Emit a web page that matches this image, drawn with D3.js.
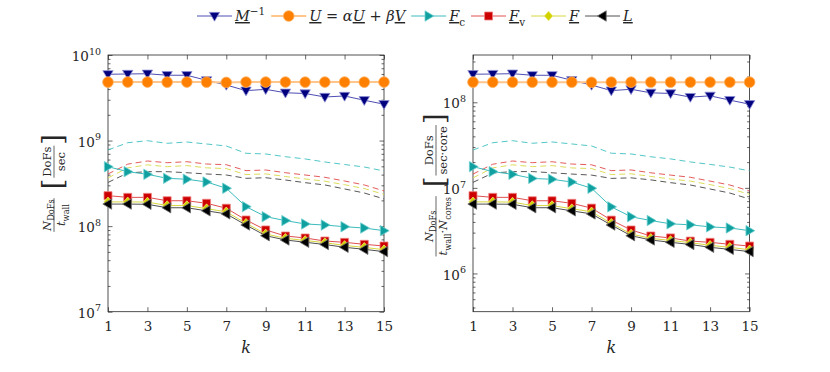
<!DOCTYPE html>
<html>
<head>
<meta charset="utf-8">
<script src="https://cdn.jsdelivr.net/npm/d3@7"></script>
<style>
  body { margin: 0; background: #fff; }
  text { font-family: "DejaVu Serif", "Liberation Serif", serif; fill: #262626; }
</style>
</head>
<body>
<div id="chart"></div>
<script>
// x values (k) and tick labels
const ks = [1, 2, 3, 4, 5, 6, 7, 8, 9, 10, 11, 12, 13, 14, 15];
const xTicks = [1, 3, 5, 7, 9, 11, 13, 15];
const yTicksLeft = [1e7, 1e8, 1e9, 1e10];
const yTicksRight = [1e6, 1e7, 1e8];

// left panel: DoFs / sec
const minvL  = [5.95e9, 6.0e9, 6.04e9, 5.8e9, 5.8e9, 5.06e9, 4.46e9, 3.83e9, 3.97e9, 3.62e9, 3.55e9, 3.23e9, 3.32e9, 2.96e9, 2.66e9];
const updL   = [4.82e9, 4.83e9, 4.83e9, 4.82e9, 4.83e9, 4.82e9, 4.78e9, 4.83e9, 4.83e9, 4.83e9, 4.82e9, 4.83e9, 4.83e9, 4.82e9, 4.83e9];
const fcL    = [4.95e8, 4.33e8, 4.03e8, 3.62e8, 3.53e8, 3.28e8, 2.77e8, 1.69e8, 1.29e8, 1.16e8, 1.06e8, 1.03e8, 9.85e7, 9.5e7, 8.85e7];
const fvL    = [2.27e8, 2.17e8, 2.17e8, 1.98e8, 1.98e8, 1.85e8, 1.62e8, 1.18e8, 9.02e7, 7.67e7, 7.27e7, 6.70e7, 6.47e7, 6.13e7, 5.86e7];
const fL     = [1.92e8, 1.92e8, 1.91e8, 1.74e8, 1.74e8, 1.60e8, 1.47e8, 1.08e8, 8.1e7, 7.2e7, 6.8e7, 6.4e7, 5.95e7, 5.65e7, 5.3e7];
const lL     = [1.81e8, 1.81e8, 1.80e8, 1.64e8, 1.64e8, 1.51e8, 1.39e8, 1.03e8, 7.73e7, 6.89e7, 6.48e7, 6.10e7, 5.66e7, 5.36e7, 5.03e7];
const fcDashL = [7.76e8, 9.44e8, 9.96e8, 9.29e8, 9.62e8, 9.12e8, 8.64e8, 7.10e8, 6.97e8, 6.48e8, 6.10e8, 5.62e8, 5.25e8, 4.91e8, 4.41e8];
const fvDashL = [4.07e8, 5.3e8, 5.77e8, 5.51e8, 5.66e8, 5.32e8, 5.22e8, 4.45e8, 4.53e8, 4.21e8, 3.96e8, 3.72e8, 3.37e8, 3.03e8, 2.58e8];
const fDashL  = [3.66e8, 4.8e8, 5.2e8, 4.95e8, 5.1e8, 4.8e8, 4.7e8, 4.0e8, 4.08e8, 3.8e8, 3.56e8, 3.35e8, 3.05e8, 2.75e8, 2.35e8];
const lDashL  = [3.24e8, 4.18e8, 4.33e8, 4.33e8, 4.21e8, 4.07e8, 3.96e8, 3.62e8, 3.68e8, 3.46e8, 3.22e8, 3.03e8, 2.72e8, 2.44e8, 2.08e8];

// right panel: DoFs / (sec * core)
const minvR  = [2.13e8, 2.14e8, 2.16e8, 2.07e8, 2.07e8, 1.81e8, 1.59e8, 1.37e8, 1.42e8, 1.29e8, 1.27e8, 1.15e8, 1.19e8, 1.06e8, 9.5e7];
const updR   = [1.72e8, 1.72e8, 1.72e8, 1.72e8, 1.72e8, 1.72e8, 1.71e8, 1.72e8, 1.72e8, 1.72e8, 1.72e8, 1.72e8, 1.72e8, 1.72e8, 1.72e8];
const fcR    = [1.77e7, 1.55e7, 1.44e7, 1.29e7, 1.26e7, 1.17e7, 9.9e6, 6.0e6, 4.6e6, 4.15e6, 3.8e6, 3.7e6, 3.5e6, 3.4e6, 3.16e6];
const fvR    = [8.1e6, 7.75e6, 7.75e6, 7.07e6, 7.07e6, 6.6e6, 5.8e6, 4.2e6, 3.22e6, 2.74e6, 2.6e6, 2.39e6, 2.31e6, 2.19e6, 2.09e6];
const fR     = [6.86e6, 6.86e6, 6.82e6, 6.21e6, 6.21e6, 5.71e6, 5.25e6, 3.86e6, 2.89e6, 2.57e6, 2.43e6, 2.29e6, 2.13e6, 2.02e6, 1.89e6];
const lR     = [6.46e6, 6.46e6, 6.43e6, 5.86e6, 5.86e6, 5.39e6, 4.96e6, 3.68e6, 2.76e6, 2.46e6, 2.31e6, 2.18e6, 2.02e6, 1.91e6, 1.8e6];
const fcDashR = [2.77e7, 3.37e7, 3.56e7, 3.32e7, 3.44e7, 3.26e7, 3.09e7, 2.54e7, 2.49e7, 2.31e7, 2.18e7, 2.01e7, 1.88e7, 1.75e7, 1.58e7];
const fvDashR = [1.45e7, 1.89e7, 2.06e7, 1.97e7, 2.02e7, 1.9e7, 1.86e7, 1.59e7, 1.62e7, 1.5e7, 1.41e7, 1.33e7, 1.2e7, 1.08e7, 9.2e6];
const fDashR  = [1.31e7, 1.71e7, 1.86e7, 1.77e7, 1.82e7, 1.71e7, 1.68e7, 1.43e7, 1.46e7, 1.36e7, 1.27e7, 1.2e7, 1.09e7, 9.8e6, 8.4e6];
const lDashR  = [1.16e7, 1.49e7, 1.55e7, 1.55e7, 1.5e7, 1.45e7, 1.41e7, 1.29e7, 1.31e7, 1.24e7, 1.15e7, 1.08e7, 9.7e6, 8.7e6, 7.4e6];

// series look (MATLAB-ish)
const styles = {
  minv: {fill: "#00007f", edge: "#8f8fd6", line: "#4e4eb4", lw: 1,   marker: "down"},
  upd:  {fill: "#ff8000", edge: "#ffb060", line: "#ffc58a", lw: 2,   marker: "circle"},
  fc:   {fill: "#10a0a0", edge: "#70d0d0", line: "#3cbcbc", lw: 1,   marker: "right"},
  fv:   {fill: "#cc0000", edge: "#f08080", line: "#e05050", lw: 1,   marker: "square"},
  f:    {fill: "#d2d200", edge: "#eaea70", line: "#d8d840", lw: 1,   marker: "diamond"},
  l:    {fill: "#000000", edge: "#707070", line: "#505050", lw: 1,   marker: "left"}
};
const dashColors = {fc: "#40c0c0", fv: "#e04848", f: "#d8d848", l: "#454545"};
const serif = "'DejaVu Serif', 'Liberation Serif', serif";

const W = 830, H = 372;
const svg = d3.select("#chart").append("svg")
  .attr("width", W).attr("height", H)
  .attr("viewBox", `0 0 ${W} ${H}`);

function markerPath(type) {
  const r = 5.2;
  if (type === "down") return `M${-r},${-r*0.7}L${r},${-r*0.7}L0,${r*1.0}Z`;
  if (type === "right") return `M${-r*0.7},${-r}L${-r*0.7},${r}L${r},0Z`;
  if (type === "left") return `M${r*0.7},${-r}L${r*0.7},${r}L${-r},0Z`;
  if (type === "square") return "M-4,-4L4,-4L4,4L-4,4Z";
  if (type === "diamond") return "M0,-4.8L4.2,0L0,4.8L-4.2,0Z";
  return d3.symbol().type(d3.symbolCircle).size(90)();
}

// rich text: parts like {t, i (italic), sub, sup, u (underline), fs}
function rich(textSel, parts, fs) {
  textSel.attr("font-size", fs).style("font-family", serif);
  let shift = 0;
  parts.forEach(p => {
    let target = 0, size = fs;
    if (p.sub) { target = fs * 0.32; size = fs * 0.72; }
    if (p.sup) { target = -fs * 0.42; size = fs * 0.72; }
    if (p.fs) size = p.fs;
    const ts = textSel.append("tspan").text(p.t)
      .attr("font-size", size)
      .attr("dy", target - shift)
      .style("font-style", p.i ? "italic" : "normal");
    if (p.u) ts.style("text-decoration", "underline");
    shift = target;
  });
}

function fraction(g, x, numParts, denParts, fs) {
  const num = g.append("text").attr("y", -3.5).attr("text-anchor", "middle");
  rich(num, numParts, fs);
  const den = g.append("text").attr("y", fs * 0.72 + 3).attr("text-anchor", "middle");
  rich(den, denParts, fs);
  const w = Math.max(num.node().getComputedTextLength(), den.node().getComputedTextLength()) + 2;
  num.attr("x", x + w / 2);
  den.attr("x", x + w / 2);
  g.append("line").attr("x1", x).attr("x2", x + w).attr("y1", 0).attr("y2", 0)
    .attr("stroke", "#262626").attr("stroke-width", 0.7);
  return w;
}

function yLabel(cx, cy, num1, den1, num2, den2) {
  const g = svg.append("g").attr("transform", `translate(${cx},${cy}) rotate(-90)`);
  const inner = g.append("g");
  const fs = 11.5;
  let x = 0;
  x += fraction(inner, x, num1, den1, fs);
  x += 9;
  const b1 = inner.append("text").attr("x", x).attr("y", 8).attr("font-size", 27)
    .style("font-family", serif).style("font-weight", 200).text("[");
  x += b1.node().getComputedTextLength() + 1;
  x += fraction(inner, x, num2, den2, fs);
  x += 1;
  const b2 = inner.append("text").attr("x", x).attr("y", 8).attr("font-size", 27)
    .style("font-family", serif).style("font-weight", 200).text("]");
  x += b2.node().getComputedTextLength();
  inner.attr("transform", `translate(${-x / 2},0)`);
}

function panel(cfg) {
  const x = d3.scaleLinear().domain([1, 15]).range([cfg.x0, cfg.x1]);
  const y = d3.scaleLog().domain(cfg.domain).range([cfg.y1, cfg.y0]);
  const g = svg.append("g");
  const axisCol = "#262626";

  // minor log ticks (both sides)
  const minor = y.ticks().filter(v => !cfg.yTicks.includes(v));
  g.append("g").attr("transform", `translate(${cfg.x0},0)`)
    .call(d3.axisLeft(y).tickValues(minor).tickSize(-2.5).tickFormat(""));
  g.append("g").attr("transform", `translate(${cfg.x1},0)`)
    .call(d3.axisRight(y).tickValues(minor).tickSize(-2.5).tickFormat(""));
  // major y ticks
  g.append("g").attr("transform", `translate(${cfg.x0},0)`)
    .call(d3.axisLeft(y).tickValues(cfg.yTicks).tickSizeInner(-4.5).tickSizeOuter(0).tickPadding(7)
      .tickFormat(() => ""))
    .call(a => a.selectAll(".tick text").each(function(d) {
      const e = Math.round(Math.log10(d));
      const t = d3.select(this).attr("font-size", 13.5).attr("dy", "0.42em");
      t.append("tspan").text("10");
      t.append("tspan").text(e).attr("font-size", 9.5).attr("dy", -6.5);
    }));
  g.append("g").attr("transform", `translate(${cfg.x1},0)`)
    .call(d3.axisRight(y).tickValues(cfg.yTicks).tickSize(-4.5).tickFormat(""));
  // x ticks
  g.append("g").attr("transform", `translate(0,${cfg.y1})`)
    .call(d3.axisBottom(x).tickValues(xTicks).tickSizeInner(-4.5).tickSizeOuter(0).tickPadding(10)
      .tickFormat(d3.format("d")))
    .call(a => a.selectAll(".tick text").attr("font-size", 13.5));
  g.append("g").attr("transform", `translate(0,${cfg.y0})`)
    .call(d3.axisTop(x).tickValues(xTicks).tickSize(-4.5).tickFormat(""));
  g.selectAll(".domain").remove();
  g.selectAll(".tick line").attr("stroke", axisCol).attr("stroke-width", 0.7);
  g.selectAll(".tick text").attr("fill", axisCol).style("font-family", serif);

  // box
  g.append("rect").attr("x", cfg.x0).attr("y", cfg.y0)
    .attr("width", cfg.x1 - cfg.x0).attr("height", cfg.y1 - cfg.y0)
    .attr("fill", "none").attr("stroke", axisCol).attr("stroke-width", 0.8);

  // x label
  g.append("text").attr("x", (cfg.x0 + cfg.x1) / 2).attr("y", 353)
    .attr("text-anchor", "middle").attr("font-size", 16).style("font-family", serif)
    .style("font-style", "italic").text("k");

  const line = d3.line().x((d, i) => x(ks[i])).y(d => y(d));

  // dashed reference curves
  cfg.dashed.forEach(s => {
    g.append("path").datum(s.values).attr("d", line)
      .attr("fill", "none").attr("stroke", dashColors[s.key])
      .attr("stroke-width", 0.9).attr("stroke-dasharray", "6,4");
  });

  // solid series with markers
  cfg.series.forEach(s => {
    const st = styles[s.key];
    g.append("path").datum(s.values).attr("d", line)
      .attr("fill", "none").attr("stroke", st.line).attr("stroke-width", st.lw);
    g.selectAll(null).data(s.values).join("path")
      .attr("transform", (d, i) => `translate(${x(ks[i])},${y(d)})`)
      .attr("d", markerPath(st.marker))
      .attr("fill", st.fill).attr("stroke", st.edge).attr("stroke-width", 0.8);
  });
}

panel({
  x0: 108, x1: 384, y0: 55, y1: 311.7, domain: [1e7, 1e10], yTicks: yTicksLeft,
  dashed: [{key: "fc", values: fcDashL}, {key: "fv", values: fvDashL}, {key: "f", values: fDashL}, {key: "l", values: lDashL}],
  series: [{key: "minv", values: minvL}, {key: "upd", values: updL}, {key: "fc", values: fcL},
           {key: "fv", values: fvL}, {key: "f", values: fL}, {key: "l", values: lL}]
});
panel({
  x0: 473, x1: 749.6, y0: 55, y1: 311.7, domain: [1e7 / 28, 1e10 / 28], yTicks: yTicksRight,
  dashed: [{key: "fc", values: fcDashR}, {key: "fv", values: fvDashR}, {key: "f", values: fDashR}, {key: "l", values: lDashR}],
  series: [{key: "minv", values: minvR}, {key: "upd", values: updR}, {key: "fc", values: fcR},
           {key: "fv", values: fvR}, {key: "f", values: fR}, {key: "l", values: lR}]
});

// y labels
yLabel(54, 183,
  [{t: "N", i: 1}, {t: "DoFs", sub: 1}], [{t: "t", i: 1}, {t: "wall", sub: 1}],
  [{t: "DoFs"}], [{t: "sec"}]);
yLabel(436, 185,
  [{t: "N", i: 1}, {t: "DoFs", sub: 1}],
  [{t: "t", i: 1}, {t: "wall", sub: 1}, {t: "\u00b7"}, {t: "N", i: 1}, {t: "cores", sub: 1}],
  [{t: "DoFs"}], [{t: "sec\u00b7core"}]);

// legend
const legendItems = [
  {key: "minv", parts: [{t: "M", i: 1, u: 1}, {t: "\u22121", sup: 1}]},
  {key: "upd",  parts: [{t: "U", i: 1, u: 1}, {t: " = "}, {t: "\u03b1", i: 1}, {t: "U", i: 1, u: 1}, {t: " + "}, {t: "\u03b2", i: 1}, {t: "V", i: 1, u: 1}]},
  {key: "fc",   parts: [{t: "F", i: 1, u: 1}, {t: "c", sub: 1}]},
  {key: "fv",   parts: [{t: "F", i: 1, u: 1}, {t: "v", sub: 1}]},
  {key: "f",    parts: [{t: "F", i: 1, u: 1}]},
  {key: "l",    parts: [{t: "L", i: 1, u: 1}]}
];
const leg = svg.append("g");
let lx = 197;
const ly = 16;
legendItems.forEach(it => {
  const st = styles[it.key];
  leg.append("line").attr("x1", lx).attr("x2", lx + 35).attr("y1", ly).attr("y2", ly)
    .attr("stroke", st.line).attr("stroke-width", st.lw);
  leg.append("path").attr("transform", `translate(${lx + 17.5},${ly})`)
    .attr("d", markerPath(st.marker)).attr("fill", st.fill).attr("stroke", st.edge).attr("stroke-width", 0.8);
  const t = leg.append("text").attr("x", lx + 38).attr("y", ly + 5);
  rich(t, it.parts, 14.5);
  lx += 38 + t.node().getComputedTextLength() + 6;
});
</script>
</body>
</html>
